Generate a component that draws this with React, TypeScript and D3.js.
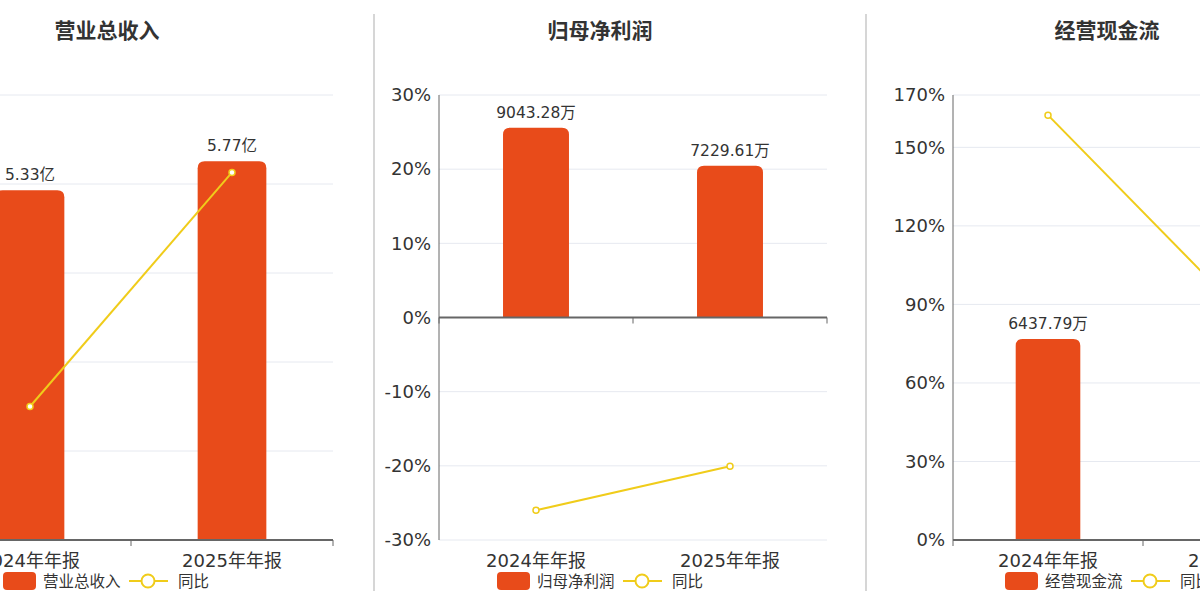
import React from 'react'
import * as d3 from 'd3'

// categories and values
const categories = ['2024年年报', '2025年年报']

const revenueValues = [5.33, 5.77]
const revenueLabels = ['5.33亿', '5.77亿']
const revenueYoy = [3.0, 8.26]
const revenueTicks = [0, 2, 4, 6, 8, 10]

const profitValues = [9043.28, 7229.61]
const profitLabels = ['9043.28万', '7229.61万']
const profitYoy = [-26.0, -20.06]
const profitTicks = [-30, -20, -10, 0, 10, 20, 30]

const cashValues = [6437.79, 12123]
const cashLabels = ['6437.79万', '1.21亿']
const cashYoy = [162.3, 88.3]
const cashTicks = [0, 30, 60, 90, 120, 150, 170]

const BAR = '#E84B1A'
const LINE = '#F0CC1A'
const FONT = '"DejaVu Sans", "Noto Sans CJK SC", sans-serif'
const TOP = 95
const BOTTOM = 540

interface PanelProps {
  title: string
  titleX: number
  legendX: number
  x0: number
  x1: number
  values: number[]
  labels: string[]
  yoy: number[]
  ticks: number[]
  barMax: number
  seriesName: string
}

function Panel(p: PanelProps) {
  const x = d3.scaleBand<string>().domain(categories).range([p.x0, p.x1])
  const pMin = d3.min(p.ticks)!
  const pMax = d3.max(p.ticks)!
  const y = d3.scaleLinear().domain([pMin, pMax]).range([BOTTOM, TOP])
  // bars share the zero line of the percent axis, on their own hidden scale
  const yb = d3.scaleLinear()
    .domain([pMin < 0 ? -p.barMax : 0, p.barMax])
    .range([BOTTOM, TOP])
  const zeroY = y(0)
  const bw = x.bandwidth() * 0.34
  const r = 7
  const cx = (i: number) => x(categories[i])! + x.bandwidth() / 2
  const line = d3.line<number>()
    .x((_, i) => cx(i))
    .y(d => y(d))

  const barPath = (c: number, top: number) => {
    const l = c - bw / 2, rt = c + bw / 2
    return `M${l},${zeroY}V${top + r}Q${l},${top} ${l + r},${top}H${rt - r}Q${rt},${top} ${rt},${top + r}V${zeroY}Z`
  }

  return (
    <g fontFamily={FONT}>
      <text x={p.titleX} y={38} textAnchor="middle" fontSize={21} fontWeight="bold" fill="#333">{p.title}</text>
      {p.ticks.map(t => (
        <g key={t}>
          <line x1={p.x0} x2={p.x1} y1={y(t)} y2={y(t)} stroke="#e6e9f0" strokeWidth={1} />
          {/* the first panel's axis lies left of the picture */}
          {p.x0 > 0 && (
            <text x={p.x0 - 8} y={y(t)} dy="0.35em" textAnchor="end" fontSize={18} fill="#333">{t}%</text>
          )}
        </g>
      ))}
      <line x1={p.x0} x2={p.x0} y1={TOP} y2={BOTTOM} stroke="#666" strokeWidth={1} />
      {p.values.map((v, i) => {
        const top = yb(v)
        return (
          <g key={i}>
            <path d={barPath(cx(i), top)} fill={BAR} />
            <text x={cx(i)} y={top - 10} textAnchor="middle" fontSize={15.5} fill="#333">{p.labels[i]}</text>
          </g>
        )
      })}
      <line x1={p.x0} x2={p.x1} y1={zeroY} y2={zeroY} stroke="#666" strokeWidth={2} />
      {[...categories.map(c => x(c)!), p.x1].map((tx, i) => (
        <line key={i} x1={tx} x2={tx} y1={zeroY} y2={zeroY + 6} stroke="#666" strokeWidth={1} />
      ))}
      {categories.map((c, i) => (
        <text key={c} x={cx(i)} y={567} textAnchor="middle" fontSize={18} fill="#333">{c}</text>
      ))}
      <path d={line(p.yoy)!} fill="none" stroke={LINE} strokeWidth={2} />
      {p.yoy.map((v, i) => (
        <circle key={i} cx={cx(i)} cy={y(v)} r={3} fill="#fff" stroke={LINE} strokeWidth={1.5} />
      ))}
      <g transform={`translate(${p.legendX},572)`}>
        <rect x={0} y={0} width={33} height={18} rx={4} fill={BAR} />
        <text x={40} y={15} fontSize={15.5} fill="#333">{p.seriesName}</text>
        <line x1={126} x2={165} y1={9} y2={9} stroke={LINE} strokeWidth={2} />
        <circle cx={145} cy={9} r={6.5} fill="#fff" stroke={LINE} strokeWidth={2} />
        <text x={175} y={15} fontSize={15.5} fill="#333">同比</text>
      </g>
    </g>
  )
}

export default function App() {
  return (
    <svg width={1200} height={600} style={{ position: 'absolute', left: 0, top: 0, background: '#fff' }}>
      <rect width={1200} height={600} fill="#fff" />
      <line x1={374} x2={374} y1={14} y2={591} stroke="#c8c8c8" strokeWidth={1.5} />
      <line x1={866} x2={866} y1={14} y2={591} stroke="#c8c8c8" strokeWidth={1.5} />
      <Panel title="营业总收入" titleX={107} legendX={3} x0={-71} x1={333}
        values={revenueValues} labels={revenueLabels} yoy={revenueYoy} ticks={revenueTicks}
        barMax={6.78} seriesName="营业总收入" />
      <Panel title="归母净利润" titleX={600} legendX={497} x0={439} x1={827}
        values={profitValues} labels={profitLabels} yoy={profitYoy} ticks={profitTicks}
        barMax={10600} seriesName="归母净利润" />
      <Panel title="经营现金流" titleX={1107} legendX={1005} x0={953} x1={1333}
        values={cashValues} labels={cashLabels} yoy={cashYoy} ticks={cashTicks}
        barMax={14250} seriesName="经营现金流" />
    </svg>
  )
}
